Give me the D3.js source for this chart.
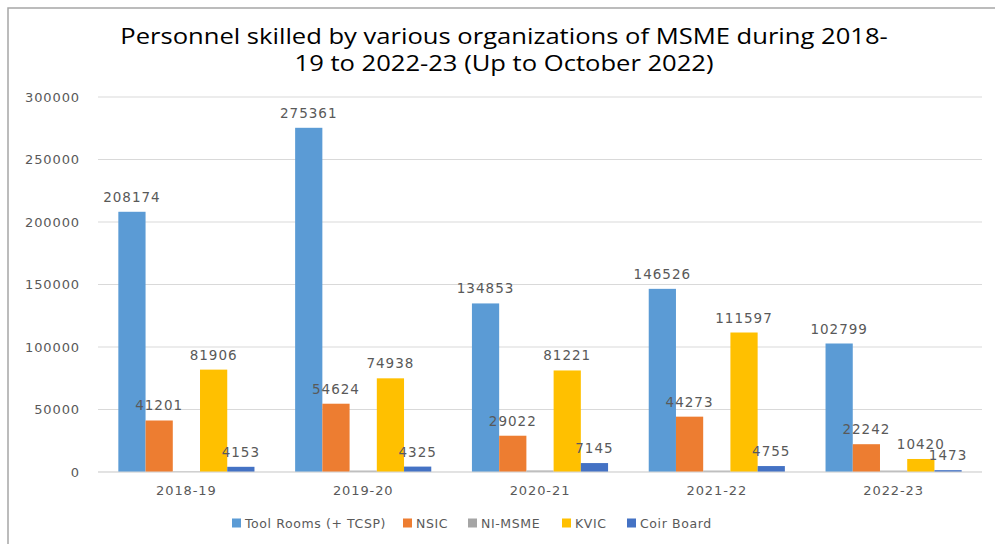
<!DOCTYPE html>
<html>
<head>
<meta charset="utf-8">
<script src="https://cdn.jsdelivr.net/npm/d3@7"></script>
<style>
  body { margin: 0; background: #fff; }
  svg { display: block; }
</style>
</head>
<body>
<div id="chart"></div>
<script>
// data
const years = ['2018-19', '2019-20', '2020-21', '2021-22', '2022-23'];
const seriesNames = ['Tool Rooms (+ TCSP)', 'NSIC', 'NI-MSME', 'KVIC', 'Coir Board'];
const toolRooms = [208174, 275361, 134853, 146526, 102799];
const nsic = [41201, 54624, 29022, 44273, 22242];
const niMsme = [400, 1100, 1200, 1100, 1100];   // tiny bars, no labels shown
const kvic = [81906, 74938, 81221, 111597, 10420];
const coirBoard = [4153, 4325, 7145, 4755, 1473];
const yTicks = [0, 50000, 100000, 150000, 200000, 250000, 300000];

const colors = ['#5b9bd5', '#ed7d31', '#a5a5a5', '#ffc000', '#4472c4'];
const showLabel = [true, true, false, true, true];
const seriesValues = [toolRooms, nsic, niMsme, kvic, coirBoard];

const width = 995, height = 544;
const svg = d3.select('#chart').append('svg')
    .attr('width', width)
    .attr('height', height);

// frame (only left and top edges are in view)
svg.append('path')
    .attr('d', 'M8,544 L8,8 L995,8')
    .attr('fill', 'none')
    .attr('stroke', '#a6a6a6')
    .attr('stroke-width', 1.5);

// title - the picture is stretched sideways, so scale the text horizontally
const titleLines = [
    { text: 'Personnel skilled by various organizations of MSME during 2018-', y: 44 },
    { text: '19 to 2022-23 (Up to October 2022)', y: 71 }
];
const titleG = titleLines.map(l => {
    const g = svg.append('g');
    const t = g.append('text')
        .attr('x', 0)
        .attr('y', 0)
        .attr('text-anchor', 'middle')
        .attr('font-family', 'Open Sans, sans-serif')
        .attr('font-size', 21)
        .attr('fill', '#000')
        .text(l.text);
    return { g, t, y: l.y };
});
const sx = 768 / titleG[0].t.node().getComputedTextLength();
titleG.forEach(d => d.g.attr('transform', `translate(504,${d.y}) scale(${sx},1)`));

const x0 = d3.scaleBand()
    .domain(years)
    .range([98, 982])
    .paddingInner(0.23)
    .paddingOuter(0.115);

const x1 = d3.scaleBand()
    .domain(seriesNames)
    .range([0, x0.bandwidth()]);

const y = d3.scaleLinear()
    .domain([0, 300000])
    .range([472, 97]);

// gridlines
svg.append('g')
    .selectAll('line')
    .data(yTicks)
    .join('line')
    .attr('x1', 98)
    .attr('x2', 982)
    .attr('y1', d => y(d))
    .attr('y2', d => y(d))
    .attr('stroke', '#d9d9d9')
    .attr('stroke-width', 1);

// y axis labels
const yAxis = svg.append('g')
    .attr('transform', 'translate(80,0)')
    .call(d3.axisLeft(y).tickValues(yTicks).tickSize(0).tickPadding(0).tickFormat(d3.format('d')));
yAxis.select('.domain').remove();
yAxis.selectAll('text')
    .attr('font-family', 'DejaVu Sans, sans-serif')
    .attr('font-size', 13)
    .attr('letter-spacing', 0.9)
    .attr('fill', '#595959');

// x axis labels
const xAxis = svg.append('g')
    .attr('transform', 'translate(0,472)')
    .call(d3.axisBottom(x0).tickSize(0).tickPadding(14));
xAxis.select('.domain').remove();
xAxis.selectAll('text')
    .attr('font-family', 'DejaVu Sans, sans-serif')
    .attr('font-size', 13)
    .attr('letter-spacing', 0.9)
    .attr('fill', '#595959');

// bars
const groups = svg.append('g')
    .selectAll('g')
    .data(years)
    .join('g')
    .attr('transform', d => `translate(${x0(d)},0)`);

groups.selectAll('rect')
    .data((d, i) => seriesNames.map((s, j) => ({ s, j, v: seriesValues[j][i] })))
    .join('rect')
    .attr('x', d => x1(d.s))
    .attr('width', x1.bandwidth())
    .attr('y', d => y(d.v))
    .attr('height', d => y(0) - y(d.v))
    .attr('fill', d => colors[d.j]);

groups.selectAll('text')
    .data((d, i) => seriesNames.map((s, j) => ({ s, j, v: seriesValues[j][i] })).filter(d => showLabel[d.j]))
    .join('text')
    .attr('x', d => x1(d.s) + x1.bandwidth() / 2)
    .attr('y', d => y(d.v) - 10)
    .attr('text-anchor', 'middle')
    .attr('font-family', 'DejaVu Sans, sans-serif')
    .attr('font-size', 13.5)
    .attr('letter-spacing', 1)
    .attr('fill', '#595959')
    .text(d => d.v);

// baseline
svg.append('line')
    .attr('x1', 98).attr('x2', 982)
    .attr('y1', y(0)).attr('y2', y(0))
    .attr('stroke', '#d9d9d9');

// legend
const legendX = [232, 403, 468, 562, 627];
const legend = svg.append('g')
    .selectAll('g')
    .data(seriesNames)
    .join('g')
    .attr('transform', (d, i) => `translate(${legendX[i]},523)`);
legend.append('rect')
    .attr('x', 0).attr('y', -4.5)
    .attr('width', 9).attr('height', 9)
    .attr('fill', (d, i) => colors[i]);
legend.append('text')
    .attr('x', 13)
    .attr('y', 5)
    .attr('font-family', 'DejaVu Sans, sans-serif')
    .attr('font-size', 12.5)
    .attr('letter-spacing', 0.6)
    .attr('fill', '#595959')
    .text(d => d);
</script>
</body>
</html>
